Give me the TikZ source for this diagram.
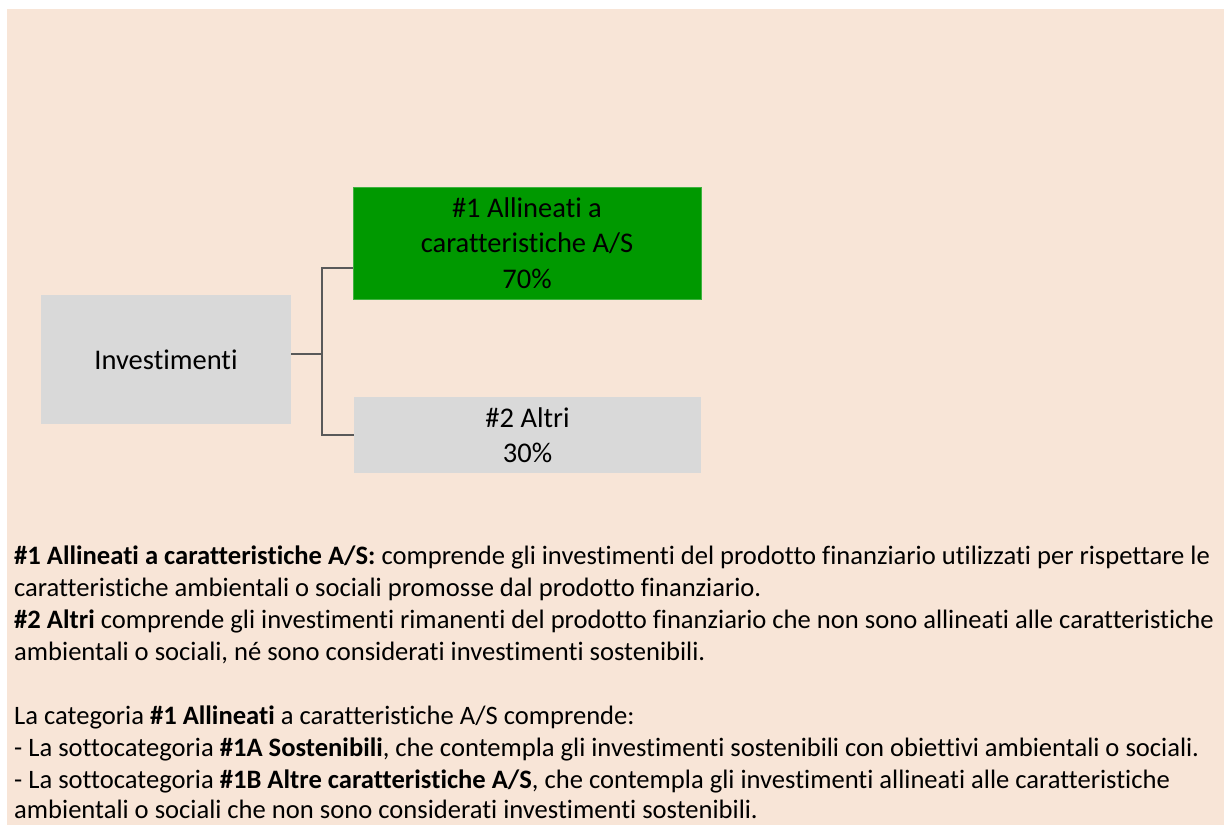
\documentclass[tikz,border=0pt]{standalone}
\usepackage{fontspec}
\setmainfont{Carlito}[Ligatures=NoCommon]
\definecolor{bgpeach}{HTML}{F8E5D7}
\definecolor{boxgray}{HTML}{D9D9D9}
\definecolor{boxgreen}{HTML}{009900}
\definecolor{connGray}{HTML}{595959}
\begin{document}
\begin{tikzpicture}[x=1bp,y=-1bp,
  box/.style={inner sep=0pt, align=center, font=\fontsize{28.5bp}{35.5bp}\selectfont},
  conn/.style={draw=connGray, line width=2.4bp},
  body/.style={anchor=base west, inner sep=0pt, font=\fontsize{26.6bp}{32.3bp}\selectfont}]
\useasboundingbox (0,0) rectangle (1224,825);
\fill[bgpeach] (7,9) rectangle (1224,825);

\node[box, fill=boxgray, minimum width=250bp, minimum height=129bp] (inv) at (166,359.5) {Investimenti};
\node[box, fill=boxgreen, draw=boxgreen!75!white, line width=0.6bp, minimum width=348bp, minimum height=112bp] (green) at (527,243) {\#1 Allineati a\\caratteristiche A/S\\70\%};
\node[box, fill=boxgray, minimum width=347bp, minimum height=76bp] (altri) at (527.5,435) {\#2 Altri\\30\%};

\draw[conn] ([yshift=5.5bp]inv.east) -- ++(31,0) coordinate (j);
\draw[conn] ([yshift=-25bp]green.west) -| (j) |- (altri.west);

\node[body] (l1) at (14,564) {\textbf{\#1 Allineati a caratteristiche A/S:} comprende gli investimenti del prodotto finanziario utilizzati per rispettare le};
\node[body] (l2) at (14,596) {caratteristiche ambientali o sociali promosse dal prodotto finanziario.};
\node[body] (l3) at (14,628) {\textbf{\#2 Altri} comprende gli investimenti rimanenti del prodotto finanziario che non sono allineati alle caratteristiche};
\node[body] (l4) at (14,660) {ambientali o sociali, né sono considerati investimenti sostenibili.};
\node[body] (l5) at (14,724) {La categoria \textbf{\#1 Allineati} a caratteristiche A/S comprende:};
\node[body] (l6) at (14,756) {- La sottocategoria \textbf{\#1A Sostenibili}, che contempla gli investimenti sostenibili con obiettivi ambientali o sociali.};
\node[body] (l7) at (14,788) {- La sottocategoria \textbf{\#1B Altre caratteristiche A/S}, che contempla gli investimenti allineati alle caratteristiche};
\node[body] (l8) at (14,818) {ambientali o sociali che non sono considerati investimenti sostenibili.};
\end{tikzpicture}
\end{document}
